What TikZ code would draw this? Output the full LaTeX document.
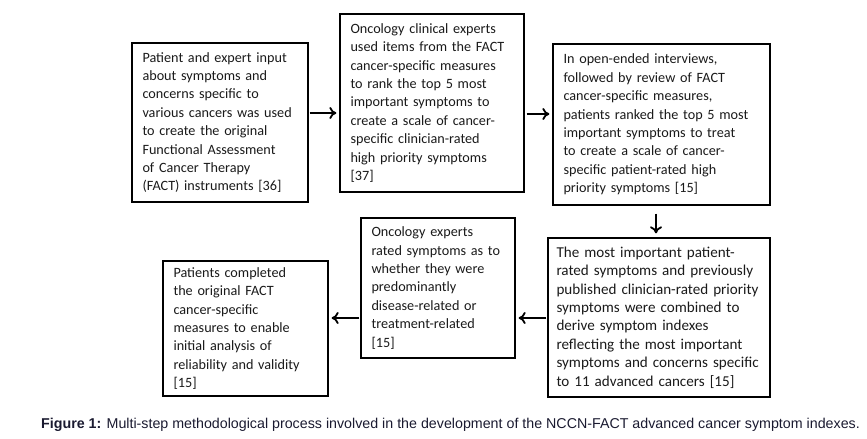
\documentclass[tikz,border=0pt]{standalone}
\usepackage{fontspec}
\setmainfont{Carlito}
\newfontfamily\capfont{Liberation Sans}
\usetikzlibrary{arrows.meta}
\definecolor{txt}{HTML}{1A1A1A}
\definecolor{captxt}{HTML}{1A1A30}
\tikzset{
  box/.style={draw=black, line width=1.3bp, inner sep=0pt, align=left, text=txt,
    font=\fontsize{14.2bp}{18.4bp}\selectfont, anchor=center},
  arr/.style={-{To[length=7bp,width=12bp,line width=1.8bp]}, line width=2bp, black},
}
\begin{document}
\begin{tikzpicture}[x=1bp,y=-1bp]
\useasboundingbox (0,0) rectangle (867,439);
\node[box, minimum width=176bp, minimum height=159bp, text width=155bp] (b1) at (220,122.5)
 {Patient and expert input\\about symptoms and\\concerns specific to\\various cancers was used\\to create the original\\Functional Assessment\\of Cancer Therapy\\(FACT) instruments [36]};
\node[box, minimum width=184bp, minimum height=178bp, text width=163bp] (b2) at (432,103)
 {Oncology clinical experts\\used items from the FACT\\cancer-specific measures\\to rank the top 5 most\\important symptoms to\\create a scale of cancer-\\specific clinician-rated\\high priority symptoms\\{}[37]};
\node[box, minimum width=217bp, minimum height=161bp, text width=196bp] (b3) at (661.5,124.5)
 {In open-ended interviews,\\followed by review of FACT\\cancer-specific measures,\\patients ranked the top 5 most\\important symptoms to treat\\to create a scale of cancer-\\specific patient-rated high\\priority symptoms [15]};
\node[box, minimum width=222bp, minimum height=159bp, text width=205bp, font=\fontsize{15.1bp}{18.4bp}\selectfont] (b4) at (659,317.5)
 {The most important patient-\\rated symptoms and previously\\published clinician-rated priority\\symptoms were combined to\\derive symptom indexes\\reflecting the most important\\symptoms and concerns specific\\to 11 advanced cancers [15]};
\node[box, minimum width=154bp, minimum height=140bp, text width=133bp] (b5) at (438,288)
 {Oncology experts\\rated symptoms as to\\whether they were\\predominantly\\disease-related or\\treatment-related\\{}[15]};
\node[box, minimum width=165bp, minimum height=135bp, text width=144bp] (b6) at (245.5,328.5)
 {Patients completed\\the original FACT\\cancer-specific\\measures to enable\\initial analysis of\\reliability and validity\\{}[15]};
\draw[arr, shorten <=1bp, shorten >=3bp] (b1.east |- 0,113) -- (b2.west |- 0,113);
\draw[arr, shorten <=2bp, shorten >=3bp] (b2.east |- 0,114) -- (b3.west |- 0,114);
\draw[arr, shorten <=8bp, shorten >=4bp] (b3.south -| 656,0) -- (b4.north -| 656,0);
\draw[arr, shorten <=1bp, shorten >=3bp] (b4.west |- 0,318) -- (b5.east |- 0,318);
\draw[arr, shorten <=1bp, shorten >=3bp] (b5.west |- 0,318) -- (b6.east |- 0,318);
\node[anchor=base west, inner sep=0pt, text=captxt] (cap) at (41,428)
 {\capfont\fontsize{14.25bp}{16bp}\selectfont\textbf{Figure 1:} Multi-step methodological process involved in the development of the NCCN-FACT advanced cancer symptom indexes.};
\end{tikzpicture}
\end{document}
